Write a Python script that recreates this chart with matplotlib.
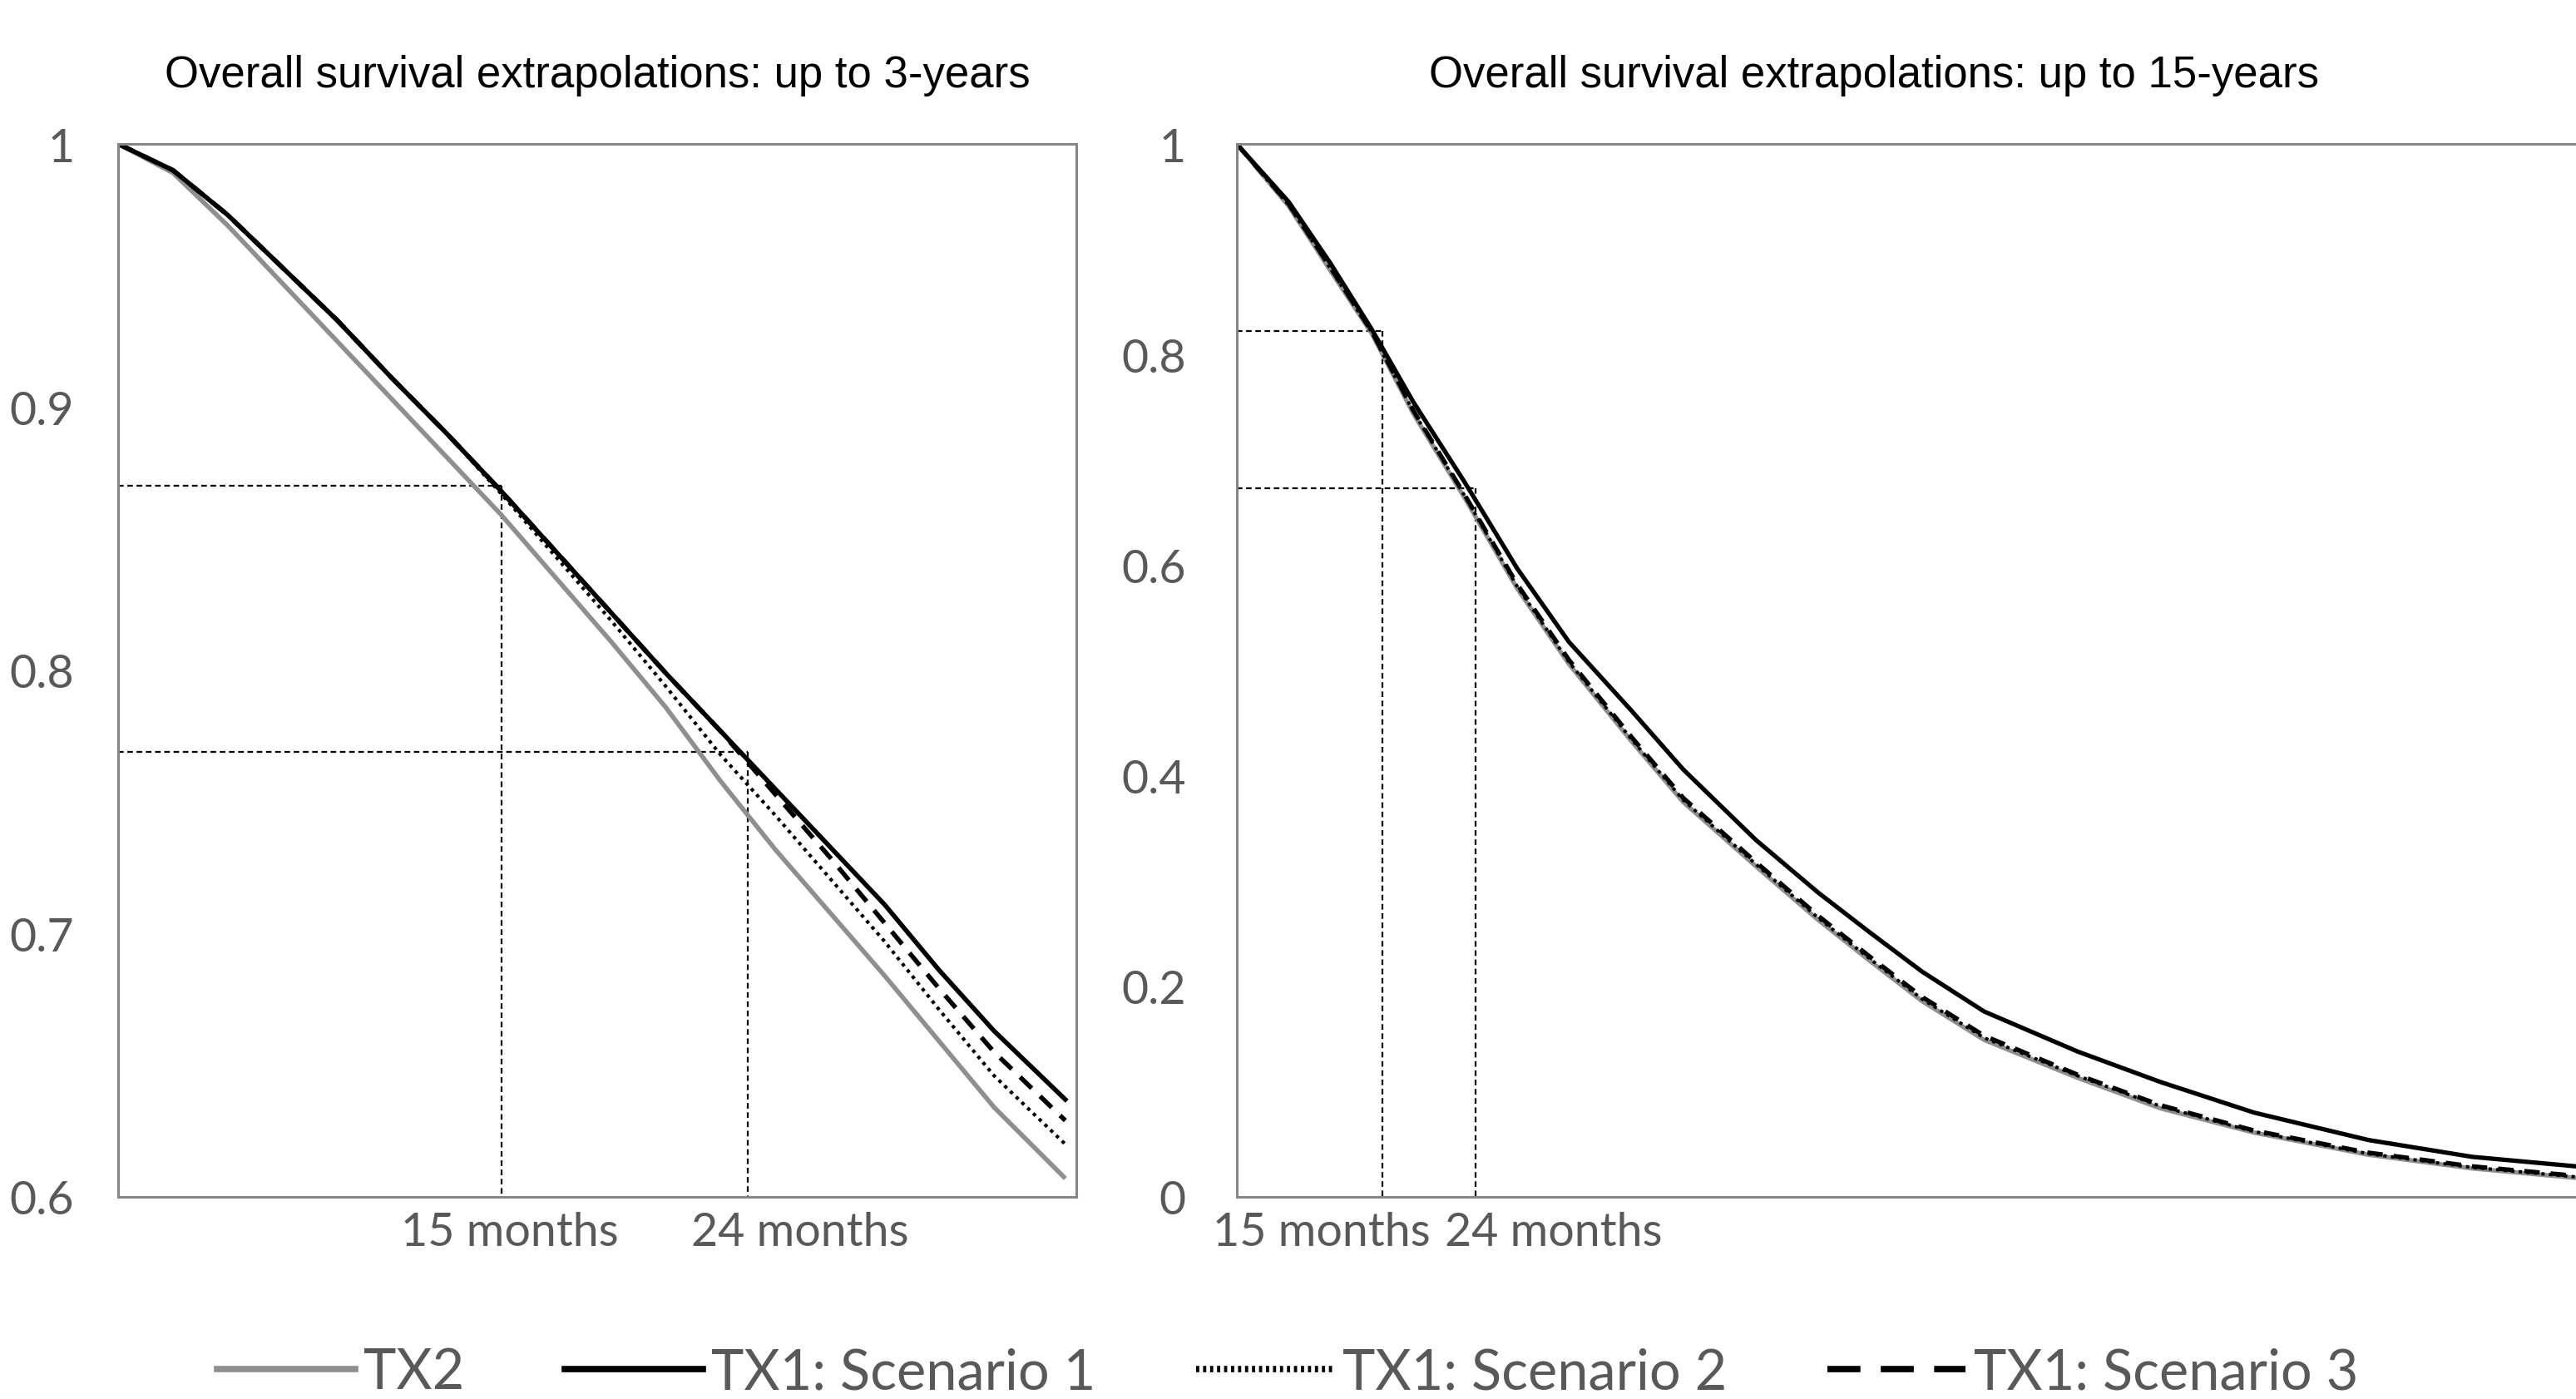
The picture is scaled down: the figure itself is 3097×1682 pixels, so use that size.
import matplotlib.pyplot as plt
import matplotlib.lines as mlines

# left panel: up to 3 years (months)
months_3y = [1, 3, 5, 7, 9, 11, 13, 15, 17, 19, 21, 23, 25, 27, 29, 31, 33, 35.6]
tx2_3y = [1.000, 0.989, 0.969, 0.947, 0.925, 0.903, 0.881, 0.859, 0.835, 0.811,
          0.786, 0.758, 0.732, 0.708, 0.684, 0.659, 0.634, 0.607]
sc1_3y = [1.000, 0.990, 0.973, 0.953, 0.933, 0.911, 0.890, 0.868, 0.845, 0.822,
          0.799, 0.777, 0.755, 0.733, 0.711, 0.686, 0.663, 0.637]
sc2_3y = [1.000, 0.990, 0.973, 0.953, 0.933, 0.911, 0.890, 0.867, 0.843, 0.819,
          0.794, 0.768, 0.745, 0.721, 0.697, 0.671, 0.646, 0.620]
sc3_3y = [1.000, 0.990, 0.973, 0.953, 0.933, 0.911, 0.890, 0.868, 0.845, 0.822,
          0.799, 0.777, 0.753, 0.729, 0.704, 0.679, 0.655, 0.629]

# right panel: up to 15 years (only first ~130 months visible)
months_15y = [1, 6, 10, 14, 18, 23, 28, 33, 39, 44, 51, 57, 62, 67, 73, 82, 90, 99, 110, 120, 130]
tx2_15y = [1.000, 0.941, 0.880, 0.820, 0.744, 0.663, 0.578, 0.506, 0.433, 0.375, 0.314,
           0.263, 0.224, 0.186, 0.149, 0.113, 0.084, 0.061, 0.040, 0.027, 0.018]
sc1_15y = [1.000, 0.945, 0.887, 0.824, 0.755, 0.678, 0.597, 0.527, 0.462, 0.406, 0.339,
           0.289, 0.251, 0.214, 0.176, 0.138, 0.109, 0.080, 0.054, 0.038, 0.029]
sc2_15y = [1.000, 0.942, 0.882, 0.821, 0.746, 0.665, 0.580, 0.508, 0.435, 0.377, 0.316,
           0.265, 0.226, 0.188, 0.151, 0.115, 0.086, 0.062, 0.041, 0.028, 0.019]
sc3_15y = [1.000, 0.943, 0.883, 0.822, 0.747, 0.666, 0.582, 0.510, 0.437, 0.379, 0.318,
           0.267, 0.228, 0.190, 0.153, 0.116, 0.087, 0.063, 0.042, 0.029, 0.020]

# reference points at 15 and 24 months
ref_months = [15, 24]
ref_3y = [0.870, 0.769]
ref_15y = [0.822, 0.673]

labels = ["TX2", "TX1: Scenario 1", "TX1: Scenario 2", "TX1: Scenario 3"]
ytick_3y = [0.6, 0.7, 0.8, 0.9, 1.0]
ytick_3y_lab = ["0.6", "0.7", "0.8", "0.9", "1"]
ytick_15y = [0, 0.2, 0.4, 0.6, 0.8, 1.0]
ytick_15y_lab = ["0", "0.2", "0.4", "0.6", "0.8", "1"]
month_labels = ["15 months", "24 months"]

GREY = "#8f8f8f"
TXT = "#595959"
FRAME = "#868686"
tick_font = "Lato"

fig = plt.figure(figsize=(30.97, 16.83), dpi=100)
axL = fig.add_axes([0.0459, 0.1444, 0.3719, 0.7522])
axR = fig.add_axes([0.4801, 0.1444, 0.5199, 0.7522])


def draw(ax, x, tx2, s1, s2, s3, lw):
    ax.plot(x, tx2, color=GREY, lw=lw, solid_capstyle="butt")
    ax.plot(x, s2, color="black", lw=lw * 0.75, linestyle=(0, (1, 1.3)))
    ax.plot(x, s3, color="black", lw=lw, linestyle=(0, (3.5, 2.5)))
    ax.plot(x, s1, color="black", lw=lw)


draw(axL, months_3y, tx2_3y, sc1_3y, sc2_3y, sc3_3y, 4.0)
draw(axR, months_15y, tx2_15y, sc1_15y, sc2_15y, sc3_15y, 3.8)

for ax, refs, x0, y0 in [(axL, ref_3y, 1, 0.6), (axR, ref_15y, 1, 0)]:
    for m, v in zip(ref_months, refs):
        ax.plot([x0, m], [v, v], color="black", lw=1.6, linestyle=(0, (3, 2)), zorder=1)
        ax.plot([m, m], [v, y0], color="black", lw=1.6, linestyle=(0, (3, 2)), zorder=1)

axL.set_xlim(1, 36)
axL.set_ylim(0.6, 1.0)
axR.set_xlim(1, 130)
axR.set_ylim(0, 1.0)

axL.set_yticks(ytick_3y, ytick_3y_lab)
axR.set_yticks(ytick_15y, ytick_15y_lab)
axL.set_xticks([15.3, 25.9], month_labels)
axR.set_xticks([9.2, 31.5], month_labels)

for ax, ypad in [(axL, 38), (axR, 44)]:
    for s in ax.spines.values():
        s.set_color(FRAME)
        s.set_linewidth(2.2)
    ax.tick_params(axis="both", length=0, colors=TXT, labelsize=40)
    ax.tick_params(axis="y", pad=ypad)
    ax.tick_params(axis="x", pad=12)
    for t in ax.get_xticklabels() + ax.get_yticklabels():
        t.set_fontfamily(tick_font)
axR.spines["right"].set_visible(False)

axL.set_title("Overall survival extrapolations: up to 3-years",
              fontsize=38, family="Liberation Sans", pad=50)
axR.set_title("Overall survival extrapolations: up to 15-years",
              fontsize=38, family="Liberation Sans", pad=50, x=0.476)

handles = [
    mlines.Line2D([], [], color=GREY, lw=5.5),
    mlines.Line2D([], [], color="black", lw=5.5),
    mlines.Line2D([], [], color="black", lw=5.5, linestyle=(0, (0.5, 0.6))),
    mlines.Line2D([], [], color="black", lw=5.5, linestyle=(0, (5.2, 3.2))),
]
leg = fig.legend(handles, labels, loc="center", bbox_to_anchor=(0.4999, 0.019),
                 ncol=4, frameon=False, handlelength=2.5, handletextpad=0.15,
                 columnspacing=1.8, prop={"family": tick_font, "size": 48})
for t in leg.get_texts():
    t.set_color(TXT)

fig.savefig("out.png", dpi=100)
